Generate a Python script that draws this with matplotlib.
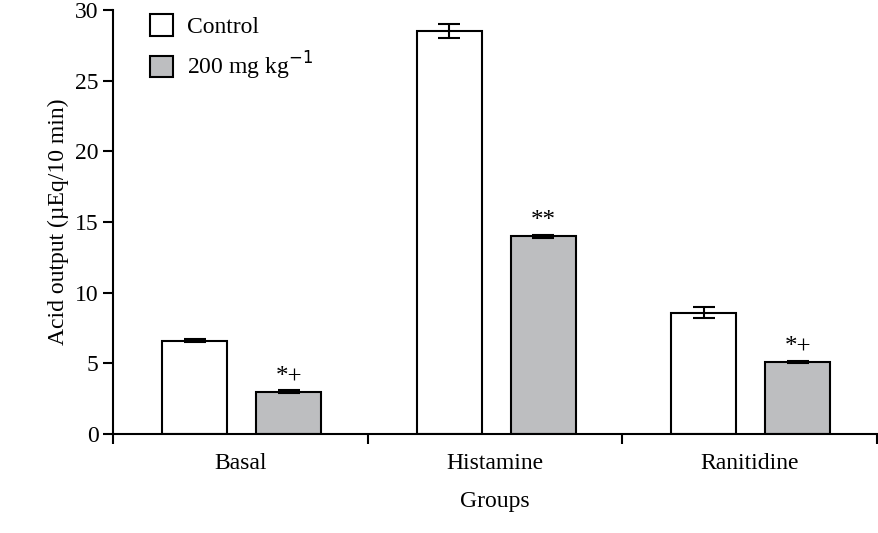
import matplotlib
matplotlib.use("Agg")
import matplotlib.pyplot as plt
import numpy as np

groups = ["Basal", "Histamine", "Ranitidine"]
control = [6.6, 28.5, 8.6]
control_err = [0.1, 0.5, 0.4]
treated = [3.0, 14.0, 5.1]
treated_err = [0.1, 0.1, 0.1]
marks = ["*+", "**", "*+"]

plt.rcParams['font.family'] = ['Liberation Serif', 'DejaVu Serif']
fig = plt.figure(figsize=(8.79, 5.33), dpi=100)
ax = fig.add_axes([0.1286, 0.1857, 0.869, 0.7953])
x = np.arange(len(groups)) + 0.5
w = 0.255
ax.bar(x - 0.18, control, w, yerr=control_err, color='white', edgecolor='black', lw=1.5,
       error_kw=dict(capsize=8, elinewidth=1.5, capthick=1.5), label='Control')
ax.bar(x + 0.19, treated, w, yerr=treated_err, color='#bdbec0', edgecolor='black', lw=1.5,
       error_kw=dict(capsize=8, elinewidth=1.5, capthick=1.5), label='200 mg kg$^{-1}$')
for xi, v, e, m in zip(x, treated, treated_err, marks):
    ax.text(xi + 0.19, v + e + 0.2, m, ha='center', va='bottom', fontsize=18)
ax.set_xlim(0, 3)
ax.set_ylim(0, 30)
ax.set_xticks([0, 1, 2, 3])
ax.set_xticklabels([])
ax.set_xticks(x, minor=True)
ax.set_xticklabels(groups, minor=True, fontsize=17)
ax.tick_params(axis='x', which='minor', length=0, pad=14)
ax.tick_params(axis='both', which='major', direction='out', length=7, width=1.5, labelsize=17)
ax.set_yticks(range(0, 31, 5))
for s in ['top', 'right']:
    ax.spines[s].set_visible(False)
for s in ['left', 'bottom']:
    ax.spines[s].set_linewidth(1.5)
ax.set_ylabel('Acid output (µEq/10 min)', fontsize=17)
ax.set_xlabel('Groups', fontsize=17, labelpad=12)
ax.legend(loc='upper left', bbox_to_anchor=(0.02, 1.04), frameon=False, fontsize=17,
          handlelength=1.0, handleheight=1.0, handletextpad=0.6, labelspacing=0.5)
fig.savefig('out.png', dpi=100)
